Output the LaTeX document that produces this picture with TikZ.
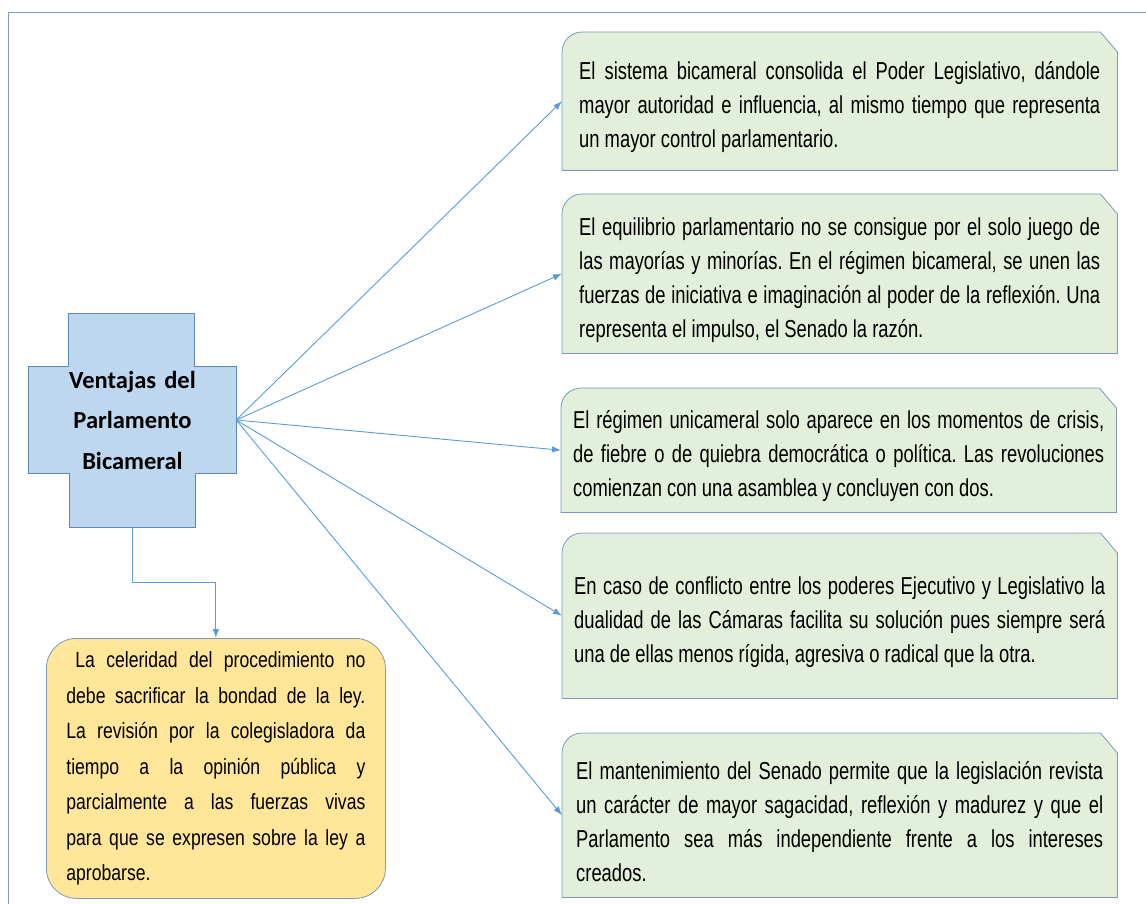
\documentclass[tikz,border=0pt]{standalone}
\usepackage{fontspec}
\setmainfont[FakeStretch=0.75]{Liberation Sans}
\newfontfamily\leyfont[FakeStretch=0.8]{Liberation Sans}
\newfontfamily\titlefont{Carlito}
\usepackage{tikz}
\usetikzlibrary{positioning, backgrounds, arrows.meta}

\definecolor{frameblue}{HTML}{7F9CC4}
\definecolor{linkblue}{HTML}{5B9BD5}
\definecolor{crossfill}{HTML}{BDD7EE}
\definecolor{crossedge}{HTML}{5F88B8}
\definecolor{notefill}{HTML}{E2EFDA}
\definecolor{noteedge}{HTML}{7C98BA}
\definecolor{leyfill}{HTML}{FFE699}

\begin{document}
\hbadness=10000
\frenchspacing
\begin{tikzpicture}[x=1pt, y=1pt,
    note/.style={anchor=north west, minimum width=555, text width=521,
      inner xsep=17, align=justify, font=\fontsize{24.5}{34}\selectfont},
    link/.style={-{Latex[length=9pt,width=6.5pt]}, linkblue, line width=0.9pt}]
  \useasboundingbox (0,0) rectangle (1146,-904);

  % outer frame
  \draw[frameblue, line width=1pt] (8,-904) -- (8,-13) -- (1146,-13);

  % centre cross
  \node[minimum width=207, minimum height=106, text width=160, align=center,
        font=\titlefont\bfseries\fontsize{24.5}{40.5}\selectfont] (ventajas) at (132.5,-420)
        {Ventajas del Parlamento Bicameral};
  \coordinate (crossfoot) at ([yshift=-54]ventajas.south);

  % notes on the right
  \node[note, minimum height=138] (n1) at (562,-32)
    {\rule{0pt}{30pt}El sistema bicameral consolida el Poder Legislativo, d\'andole\linebreak
     mayor autoridad e influencia, al mismo tiempo que representa\linebreak
     un mayor control parlamentario.};
  \node[note, minimum height=159] (n2) at (562,-194)
    {\rule{0pt}{30pt}El equilibrio parlamentario no se consigue por el solo juego de\linebreak
     las mayor\'ias y minor\'ias. En el r\'egimen bicameral, se unen las\linebreak
     fuerzas de iniciativa e imaginaci\'on al poder de la reflexi\'on. Una\linebreak
     representa el impulso, el Senado la raz\'on.};
  \node[note, minimum height=124, inner xsep=12, text width=531] (n3) at (561,-388)
    {\rule{0pt}{30pt}El r\'egimen unicameral solo aparece en los momentos de crisis,\linebreak
     de fiebre o de quiebra democr\'atica o pol\'itica. Las revoluciones\linebreak
     comienzan con una asamblea y concluyen con dos.};
  \node[note, minimum height=165, inner xsep=12, text width=531] (n4) at (562,-533)
    {\rule{0pt}{30pt}En caso de conflicto entre los poderes Ejecutivo y Legislativo la\linebreak
     dualidad de las C\'amaras facilita su soluci\'on pues siempre ser\'a\linebreak
     una de ellas menos r\'igida, agresiva o radical que la otra.};
  \node[note, minimum height=164, inner xsep=14, text width=527] (n5) at (562,-733)
    {\rule{0pt}{30pt}El mantenimiento del Senado permite que la legislaci\'on revista\linebreak
     un car\'acter de mayor sagacidad, reflexi\'on y madurez y que el\linebreak
     Parlamento sea m\'as independiente frente a los intereses\linebreak
     creados.};

  % note below the cross
  \node[anchor=north west, minimum width=339, minimum height=260, text width=299,
        inner xsep=20, align=justify, rounded corners=30, draw=noteedge, fill=leyfill,
        line width=0.8pt, font=\leyfont\fontsize{22}{35.5}\selectfont] (ley) at (46,-638)
    {\hspace*{9pt}La celeridad del procedimiento no\linebreak
     debe sacrificar la bondad de la ley.\linebreak
     La revisi\'on por la colegisladora da\linebreak
     tiempo a la opini\'on p\'ublica y\linebreak
     parcialmente a las fuerzas vivas\linebreak
     para que se expresen sobre la ley a\linebreak
     aprobarse.};

  \begin{pgfonlayer}{background}
    \draw[crossedge, fill=crossfill, line width=0.9pt]
      (ventajas.north west) -- ([xshift=40]ventajas.north west) -- ++(0,53) -- ++(126,0)
      -- ++(0,-53) -- (ventajas.north east) -- (ventajas.south east)
      -- ([xshift=-41]ventajas.south east) -- ++(0,-54) -- ++(-126,0) -- ++(0,54)
      -- (ventajas.south west) -- cycle;
    \foreach \n in {n1,n2,n3,n4,n5}
      \draw[noteedge, fill=notefill, line width=0.8pt]
        (\n.south west) -- ([yshift=-20]\n.north west) arc[start angle=180, end angle=90, radius=20]
        -- ([xshift=-17]\n.north east) -- ([yshift=-20]\n.north east) -- (\n.south east) -- cycle;
  \end{pgfonlayer}

  % connectors
  \foreach \n in {n1,n2,n3,n4,n5}
    \draw[link] (ventajas.east) -- (\n.west);
  \draw[link] (crossfoot) -- ++(0,-55) -| (ley.north);
\end{tikzpicture}
\end{document}
